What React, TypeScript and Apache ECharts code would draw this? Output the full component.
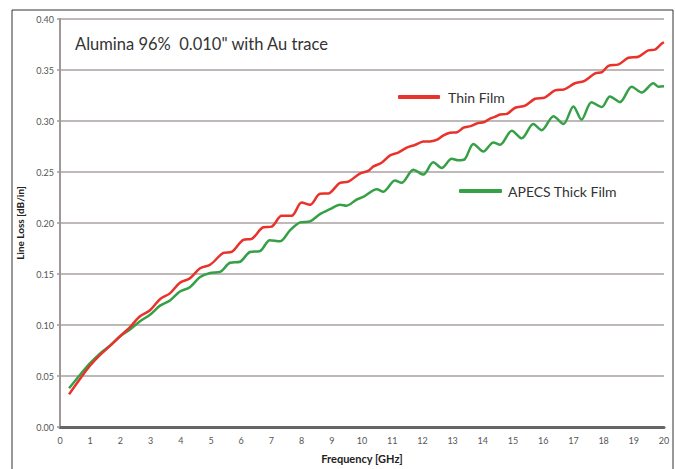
import React, { useEffect, useRef } from "react";
import * as echarts from "echarts";

const titleText = 'Alumina 96%  0.010" with Au trace';
const seriesNames = ["Thin Film", "APECS Thick Film"];
const xAxisTitle = "Frequency [GHz]";
const yAxisTitle = "Line Loss [dB/in]";

const thinFilm: [number, number][] = [
  [0.3, 0.032], [0.66, 0.047], [0.99, 0.06], [1.32, 0.0705], [1.66, 0.0795], [1.99, 0.089],
  [2.32, 0.098], [2.65, 0.1085], [2.98, 0.1144], [3.31, 0.1253], [3.64, 0.131], [3.97, 0.1415],
  [4.3, 0.1457], [4.64, 0.1556], [4.97, 0.159], [5.41, 0.1706], [5.68, 0.1716], [6.07, 0.1835],
  [6.35, 0.1845], [6.73, 0.1958], [7.01, 0.1965], [7.34, 0.207], [7.67, 0.207], [8.0, 0.22],
  [8.28, 0.2178], [8.61, 0.2287], [8.89, 0.229], [9.27, 0.2394], [9.55, 0.2405], [9.93, 0.2485],
  [10.2, 0.251], [10.38, 0.2555], [10.65, 0.259], [10.93, 0.2663], [11.2, 0.269], [11.48, 0.274],
  [11.75, 0.2765], [12.03, 0.2798], [12.25, 0.28], [12.47, 0.2814], [12.7, 0.286], [12.91, 0.2885],
  [13.15, 0.289], [13.36, 0.2934], [13.6, 0.295], [13.8, 0.2976], [14.05, 0.299], [14.24, 0.3024],
  [14.4, 0.304], [14.57, 0.3063], [14.8, 0.307], [15.07, 0.313], [15.4, 0.315], [15.73, 0.3218],
  [16.05, 0.323], [16.39, 0.33], [16.7, 0.331], [17.05, 0.337], [17.35, 0.339], [17.72, 0.3467],
  [17.95, 0.348], [18.16, 0.354], [18.5, 0.3555], [18.82, 0.362], [19.15, 0.363], [19.48, 0.3693],
  [19.7, 0.37], [19.92, 0.3758], [20, 0.377],
];

const thickFilm: [number, number][] = [
  [0.3, 0.038], [0.66, 0.051], [0.99, 0.0623], [1.32, 0.072], [1.66, 0.08], [1.99, 0.089],
  [2.32, 0.0957], [2.65, 0.1037], [2.98, 0.11], [3.31, 0.119], [3.64, 0.124], [3.97, 0.1328],
  [4.3, 0.137], [4.64, 0.147], [4.97, 0.151], [5.3, 0.152], [5.63, 0.161], [5.96, 0.162],
  [6.29, 0.1716], [6.62, 0.1725], [6.95, 0.183], [7.28, 0.182], [7.62, 0.193], [7.95, 0.2006],
  [8.28, 0.2016], [8.61, 0.2087], [8.94, 0.2135], [9.27, 0.218], [9.49, 0.217], [9.82, 0.223],
  [10.04, 0.2255], [10.49, 0.233], [10.71, 0.2307], [11.09, 0.2417], [11.31, 0.2394], [11.7, 0.2523],
  [12.03, 0.2475], [12.36, 0.2595], [12.64, 0.254], [12.97, 0.263], [13.19, 0.2614], [13.4, 0.2625],
  [13.69, 0.2775], [14.02, 0.27], [14.35, 0.279], [14.57, 0.2766], [14.96, 0.2905], [15.29, 0.283],
  [15.67, 0.297], [15.95, 0.291], [16.34, 0.3047], [16.67, 0.297], [17.0, 0.3143], [17.27, 0.3014],
  [17.6, 0.3185], [17.94, 0.3137], [18.21, 0.324], [18.54, 0.3185], [18.93, 0.3337], [19.26, 0.328],
  [19.65, 0.337], [19.81, 0.3337], [20, 0.334],
];

const RED = "#e8322b";
const GREEN = "#35a046";
const FONT = "Lato";

export default function App() {
  const ref = useRef<HTMLDivElement>(null);
  useEffect(() => {
    if (!ref.current) return;
    const chart = echarts.init(ref.current, undefined, { renderer: "svg" });
    chart.setOption({
      animation: false,
      backgroundColor: "#ffffff",
      textStyle: { fontFamily: FONT },
      grid: { left: 60, right: 11, top: 19, bottom: 37, containLabel: false },
      graphic: [
        {
          type: "rect",
          shape: { x: 12, y: 10, width: 661, height: 480 },
          style: { fill: "none", stroke: "#333", lineWidth: 1 },
          silent: true,
          z: 0,
        },
        {
          type: "text",
          left: 75,
          top: 35,
          style: { text: titleText, fontSize: 16.5, fill: "#333", fontFamily: FONT },
        },
      ],
      legend: [
        {
          data: [seriesNames[0]],
          left: 393,
          top: 85,
          icon: "roundRect",
          itemWidth: 42,
          itemHeight: 4,
          textStyle: { fontSize: 14, color: "#333", fontFamily: FONT, padding: [0, 0, 0, 3] },
        },
        {
          data: [seriesNames[1]],
          left: 454,
          top: 179,
          icon: "roundRect",
          itemWidth: 43,
          itemHeight: 4,
          textStyle: { fontSize: 14, color: "#333", fontFamily: FONT, padding: [0, 0, 0, 1] },
        },
      ],
      xAxis: {
        type: "value",
        min: 0,
        max: 20,
        interval: 1,
        name: xAxisTitle,
        nameLocation: "middle",
        nameGap: 26,
        nameTextStyle: { fontSize: 11, fontWeight: "bold", color: "#222", fontFamily: FONT },
        axisLine: { show: true, onZero: false, lineStyle: { color: "#666", width: 3 } },
        axisTick: { show: false },
        axisLabel: { fontSize: 9, color: "#555", margin: 9 },
        splitLine: { show: false },
      },
      yAxis: {
        type: "value",
        min: 0,
        max: 0.4,
        interval: 0.05,
        name: yAxisTitle,
        nameLocation: "middle",
        nameGap: 33,
        nameTextStyle: { fontSize: 10, fontWeight: "bold", color: "#222", fontFamily: FONT },
        axisLine: { show: true, lineStyle: { color: "#a09898", width: 2 } },
        axisTick: { show: true, length: 3, lineStyle: { color: "#a09898", width: 1.5 } },
        axisLabel: {
          fontSize: 9,
          color: "#555",
          margin: 6,
          formatter: (v: number) => v.toFixed(2),
        },
        splitLine: { show: true, lineStyle: { color: "#a8a0a0", width: 1.5 } },
      },
      series: [
        {
          name: seriesNames[0],
          type: "line",
          data: thinFilm,
          showSymbol: false,
          smooth: 0.3,
          lineStyle: { color: RED, width: 2.5 },
          itemStyle: { color: RED },
          z: 3,
        },
        {
          name: seriesNames[1],
          type: "line",
          data: thickFilm,
          showSymbol: false,
          smooth: 0.3,
          lineStyle: { color: GREEN, width: 2.5 },
          itemStyle: { color: GREEN },
          z: 2,
        },
      ],
    });
    return () => chart.dispose();
  }, []);
  return (
    <div
      ref={ref}
      style={{ position: "fixed", left: 0, top: 0, width: 675, height: 469, background: "#fff" }}
    />
  );
}
